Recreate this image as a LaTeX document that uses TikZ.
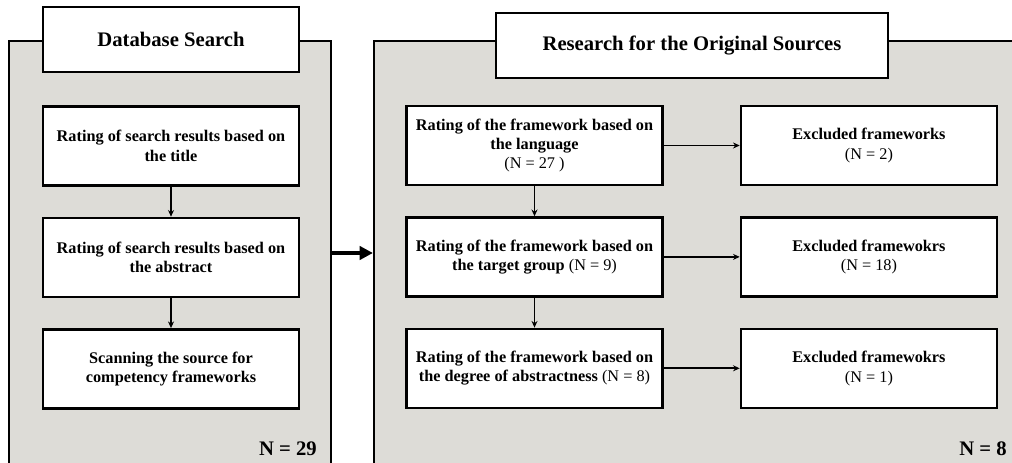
\documentclass[tikz,border=0pt]{standalone}
\usepackage{fontspec}
\setmainfont{Liberation Serif}
\usepackage{tikz}
\usetikzlibrary{arrows.meta,positioning}
\definecolor{panelgray}{RGB}{221,220,215}

\begin{document}
\begin{tikzpicture}[
        x=0.75pt, y=-0.75pt,
        node distance=22.5pt and 57pt,
        panel/.style={rectangle, draw, fill=panelgray, line width=1.6pt, minimum height=321.75pt},
        box/.style={rectangle, draw, fill=white, line width=1.8pt, minimum width=192pt,
                    minimum height=59.25pt, align=center, inner sep=2pt,
                    font=\fontsize{12.2}{14.6}\selectfont\bfseries},
        headbox/.style={box, minimum height=48.75pt, font=\fontsize{15.5}{18}\selectfont\bfseries},
        numlabel/.style={anchor=base east, inner sep=0pt, font=\fontsize{15.5}{18}\selectfont\bfseries},
        arrow/.style={-{Stealth[length=5pt, width=4.5pt]}, line width=1.4pt},
        bigarrow/.style={-{Triangle[length=10pt, width=10pt]}, line width=3.2pt}
    ]
        \clip (0,0) rectangle (1012,463);

        \node[panel, minimum width=241.5pt] (lpanel) at (170,255.5) {};
        \node[panel, minimum width=488.25pt] (rpanel) at (699.5,255.5) {};

        \node[headbox] (dbhead) at (171,39.5) {Database Search};
        \node[headbox, minimum width=294pt] (srchead) at (692,45.5) {Research for the Original Sources};

        \node[box] (title) at (171,146) {Rating of search results based on\\ the title};
        \node[box, below=of title] (abstract) {Rating of search results based on\\ the abstract};
        \node[box, below=of abstract] (scan) {Scanning the source for\\ competency frameworks};

        \node[box] (lang) at (534.5,145.5) {Rating of the framework based on\\ the language\\ {\mdseries (N = 27 )}};
        \node[box, below=of lang] (group) {Rating of the framework based on\\ the target group {\mdseries (N = 9)}};
        \node[box, below=of group] (degree) {Rating of the framework based on\\ the degree of abstractness {\mdseries (N = 8)}};

        \node[box, right=of lang] (excl1) {Excluded frameworks\\ {\mdseries (N = 2)}};
        \node[box, right=of group] (excl2) {Excluded framewokrs\\ {\mdseries (N = 18)}};
        \node[box, right=of degree] (excl3) {Excluded framewokrs\\ {\mdseries (N = 1)}};

        \node[numlabel] (n29) at (317,455) {N = 29};
        \node[numlabel] (n8) at (1007,455) {N = 8};

        \draw[arrow] (title) -- (abstract);
        \draw[arrow] (abstract) -- (scan);
        \draw[arrow] (lang) -- (group);
        \draw[arrow] (group) -- (degree);
        \draw[arrow] (lang) -- (excl1);
        \draw[arrow] (group) -- (excl2);
        \draw[arrow] (degree) -- (excl3);
        \draw[bigarrow] (lpanel.east |- 0,253) -- (rpanel.west |- 0,253);
    \end{tikzpicture}
\end{document}
